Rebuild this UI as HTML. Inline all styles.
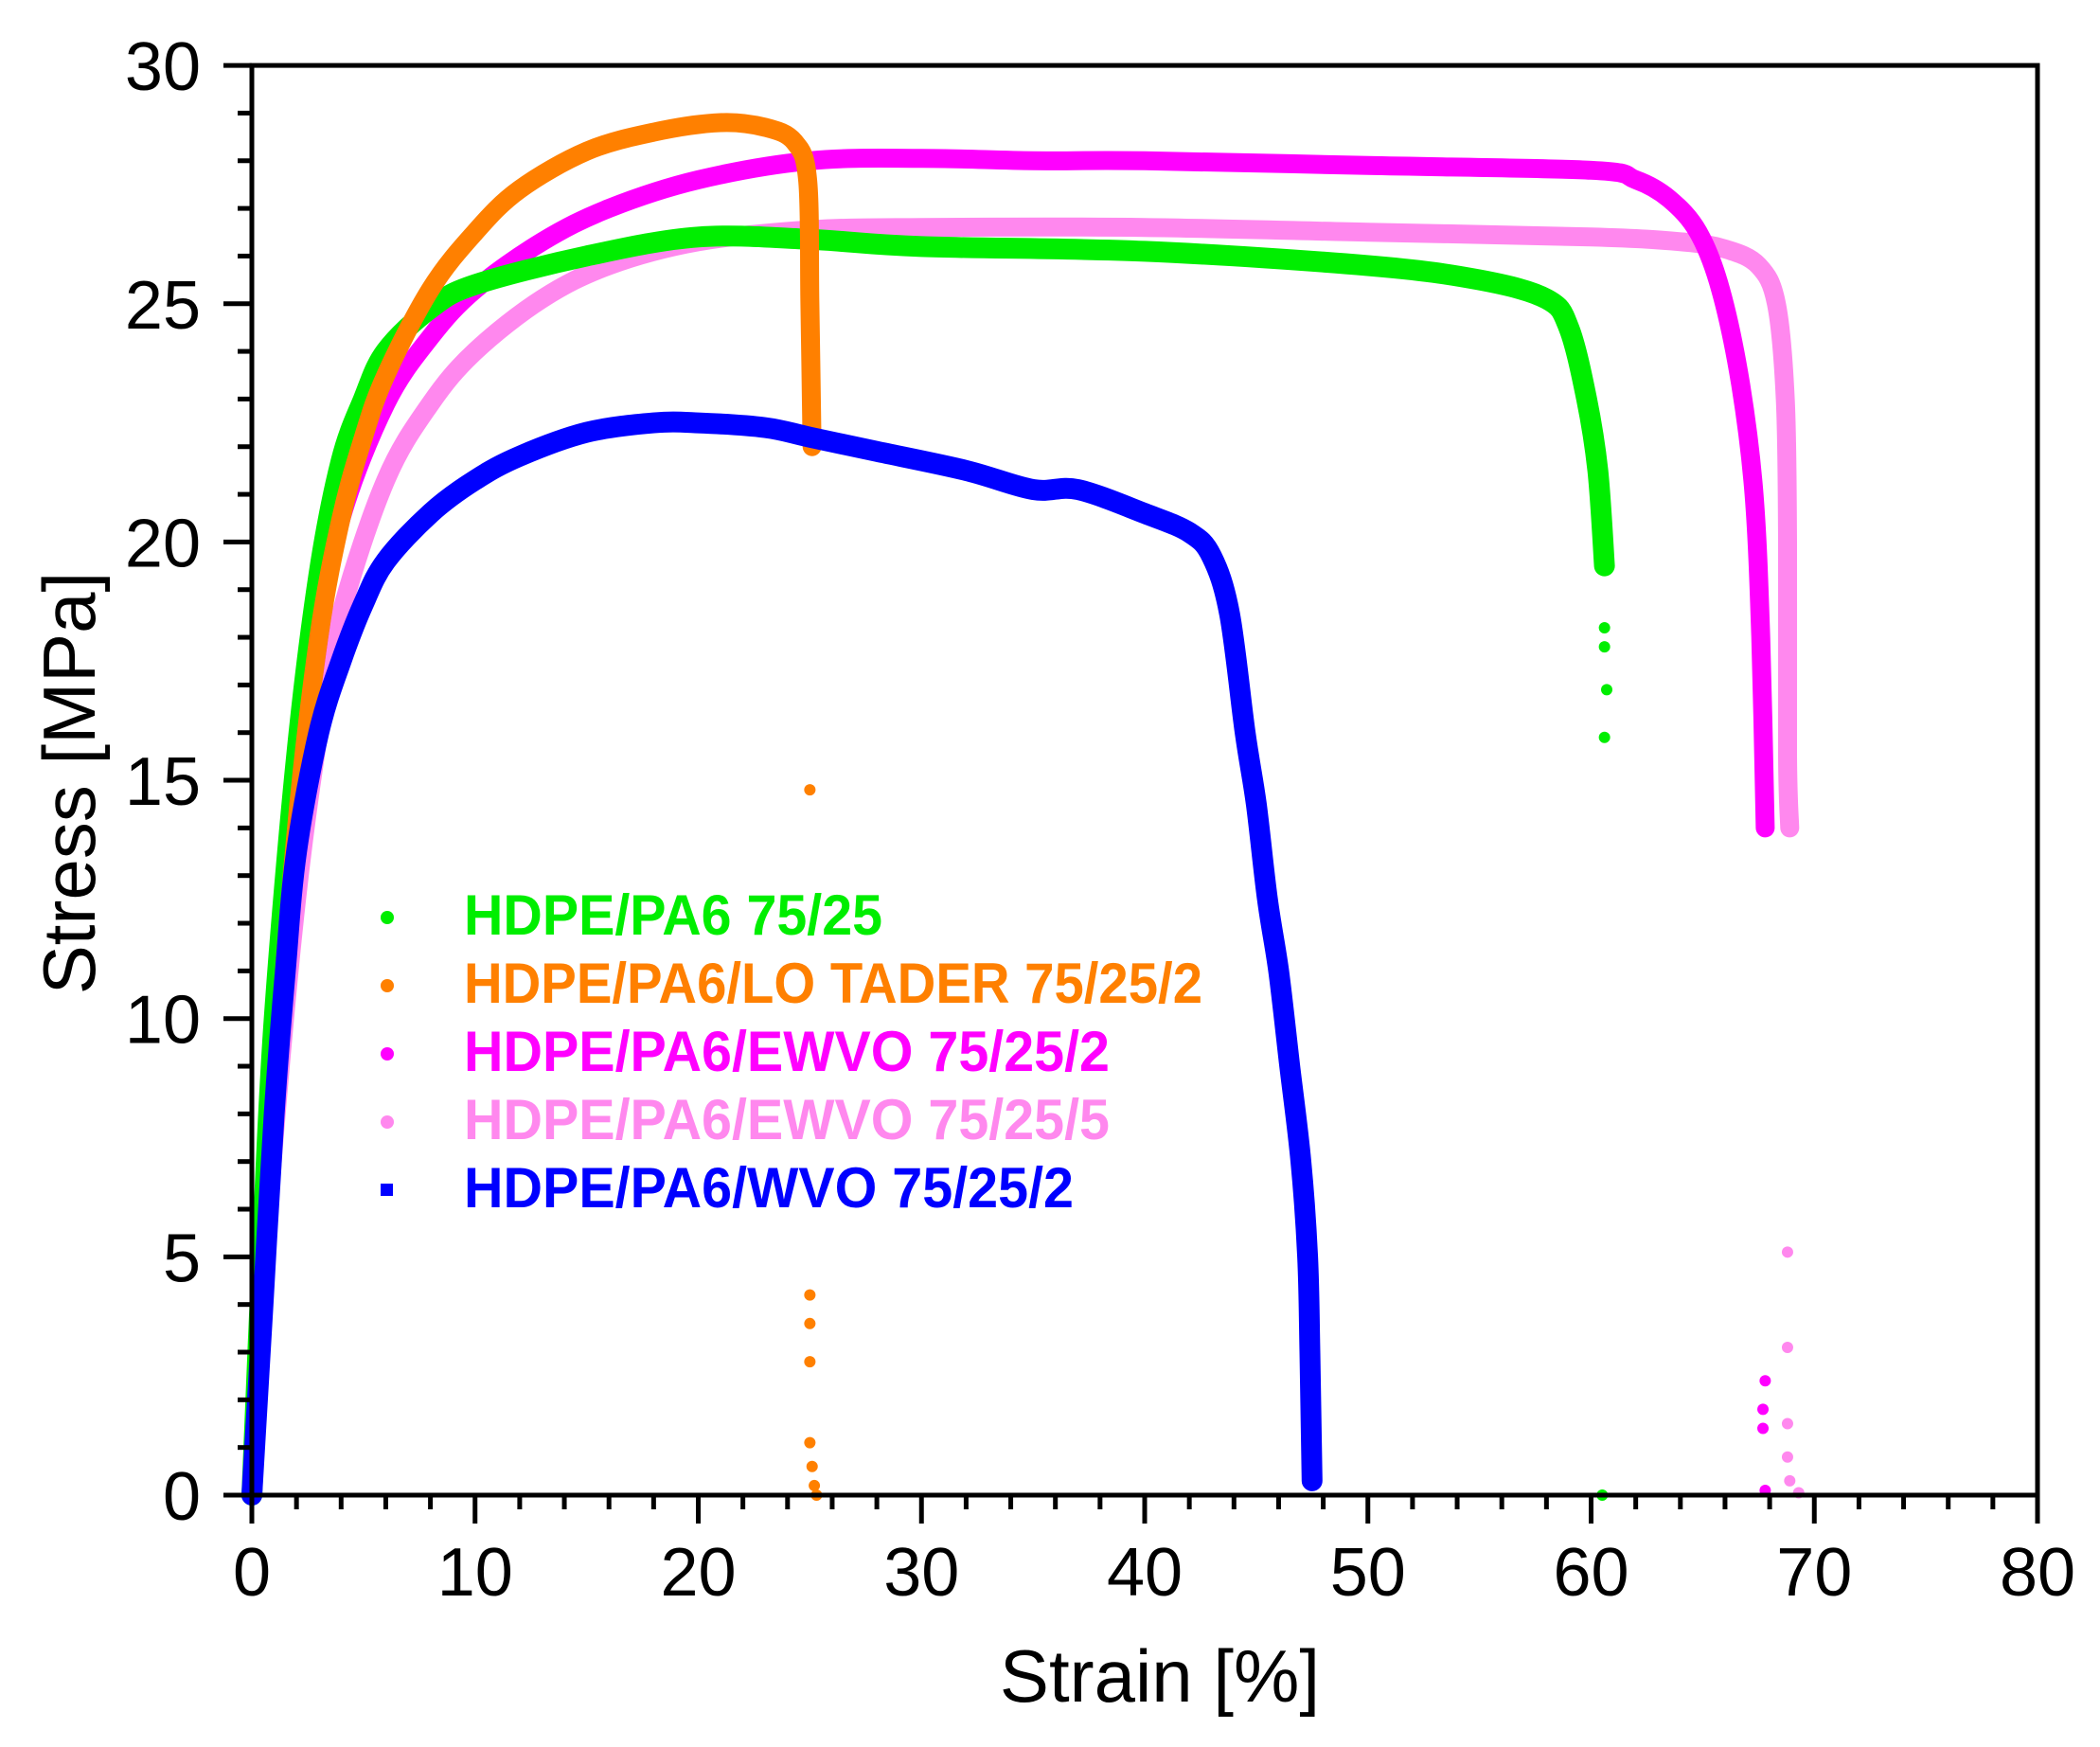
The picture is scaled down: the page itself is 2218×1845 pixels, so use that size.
<!DOCTYPE html>
<html><head><meta charset="utf-8"><style>html,body{margin:0;padding:0;background:#fff}svg{display:block}</style></head>
<body>
<svg id="svg" width="2218" height="1845" viewBox="0 0 2218 1845" xmlns="http://www.w3.org/2000/svg" font-family="Liberation Sans, Arial, sans-serif">
<rect width="2218" height="1845" fill="#fff"/>
<g id="curves" fill="none" stroke-linejoin="round" stroke-linecap="round"></g>
<g id="axes"></g>
<g font-weight="bold" font-size="60">
<circle cx="409" cy="969" r="7" fill="#00ee00"/><text x="490" y="987" fill="#00ee00" textLength="442" lengthAdjust="spacingAndGlyphs">HDPE/PA6 75/25</text>
<circle cx="409" cy="1041" r="7" fill="#ff8000"/><text x="490" y="1059" fill="#ff8000" textLength="780" lengthAdjust="spacingAndGlyphs">HDPE/PA6/LO TADER 75/25/2</text>
<circle cx="409" cy="1113" r="7" fill="#ff00ff"/><text x="490" y="1131" fill="#ff00ff" textLength="682" lengthAdjust="spacingAndGlyphs">HDPE/PA6/EWVO 75/25/2</text>
<circle cx="409" cy="1185" r="7" fill="#ff88ee"/><text x="490" y="1203" fill="#ff88ee" textLength="682" lengthAdjust="spacingAndGlyphs">HDPE/PA6/EWVO 75/25/5</text>
<rect x="402" y="1250" width="13" height="13" fill="#0000ff"/><text x="490" y="1275" fill="#0000ff" textLength="644" lengthAdjust="spacingAndGlyphs">HDPE/PA6/WVO 75/25/2</text>
</g>
<text x="1225" y="1797" font-size="78" text-anchor="middle">Strain [%]</text>
<text transform="translate(100,827) rotate(-90)" font-size="78" text-anchor="middle">Stress [MPa]</text>
</svg>
<script>
var ns="http://www.w3.org/2000/svg";
function X(s){return 266+23.575*s;}
function Y(v){return 1579-50.33*v;}
var cg=document.getElementById('curves'), ag=document.getElementById('axes');
function ln(x1,y1,x2,y2,w){var l=document.createElementNS(ns,'line');l.setAttribute('x1',x1);l.setAttribute('y1',y1);l.setAttribute('x2',x2);l.setAttribute('y2',y2);l.setAttribute('stroke','#000');l.setAttribute('stroke-width',w||5);ag.appendChild(l);}
function tx(x,y,s,anchor){var t=document.createElementNS(ns,'text');t.setAttribute('x',x);t.setAttribute('y',y);t.setAttribute('font-size',72);t.setAttribute('text-anchor',anchor);t.textContent=s;ag.appendChild(t);}
var r=document.createElementNS(ns,'rect');r.setAttribute('x',X(0));r.setAttribute('y',Y(30));r.setAttribute('width',X(80)-X(0));r.setAttribute('height',Y(0)-Y(30));r.setAttribute('fill','none');r.setAttribute('stroke','#000');r.setAttribute('stroke-width',5);ag.appendChild(r);
for(var s=0;s<=80;s+=2){var maj=s%10==0;ln(X(s),Y(0),X(s),Y(0)+(maj?30:15));if(maj)tx(X(s),1685,String(s),'middle');}
for(var v=0;v<=30;v+=1){var mj=v%5==0;ln(X(0),Y(v),X(0)-(mj?30:15),Y(v));if(mj)tx(212,Y(v)+26,String(v),'end');}
</script>
<script>
function f1(n){return (Math.round(n*10)/10).toString();}
function poly(pts,col,w){
  var P=[];for(var i=0;i<pts.length;i++){P.push([X(pts[i][0]),Y(pts[i][1])]);}
  var d='M'+f1(P[0][0])+','+f1(P[0][1]);
  for(var j=0;j<P.length-1;j++){
    var a=P[Math.max(0,j-1)],b=P[j],c=P[j+1],e=P[Math.min(P.length-1,j+2)];
    d+=' C'+f1(b[0]+(c[0]-a[0])/6)+','+f1(b[1]+(c[1]-a[1])/6)+' '+f1(c[0]-(e[0]-b[0])/6)+','+f1(c[1]-(e[1]-b[1])/6)+' '+f1(c[0])+','+f1(c[1]);
  }
  var el=document.createElementNS(ns,'path');el.setAttribute('d',d);el.setAttribute('stroke',col);el.setAttribute('stroke-width',w);el.setAttribute('fill','none');cg.appendChild(el);
}
function dots(pts,col){for(var i=0;i<pts.length;i++){var c=document.createElementNS(ns,'circle');c.setAttribute('cx',X(pts[i][0]));c.setAttribute('cy',Y(pts[i][1]));c.setAttribute('r',6);c.setAttribute('fill',col);cg.appendChild(c);}}
var pink=[[0,0],[0.5,4],[1,7.5],[2,12.5],[3,16],[4,18.5],[6,21.3],[8,22.9],[10,24],[13,25.1],[16,25.8],[20,26.3],[25,26.55],[30,26.6],[40,26.6],[50,26.5],[60,26.4],[64,26.3],[66,26.15],[67.5,25.8],[68.3,25],[68.7,23],[68.8,20],[68.8,15.5],[68.9,14]];
var mag=[[0,0],[0.5,4.5],[1,8.5],[2,14],[3,18],[4,20.5],[6,22.9],[8,24.3],[10,25.3],[13,26.3],[16,27],[20,27.6],[25,28],[30,28.05],[35,28],[40,28],[50,27.9],[60,27.8],[62,27.6],[63.5,27.2],[64.8,26.5],[65.8,25.3],[66.7,23.3],[67.3,21],[67.6,18],[67.8,14]];
var green=[[0,0],[0.5,5.5],[1,10],[2,15.5],[3,19.3],[4,21.7],[5,23],[6,24],[8,24.9],[10,25.4],[15,26],[20,26.4],[25,26.35],[30,26.2],[40,26.1],[50,25.8],[55,25.5],[58,25.1],[59,24.5],[59.8,23],[60.3,21.5],[60.6,19.5]];
var orange=[[0,0],[1,8],[2,14],[3,18],[4,20.5],[5,22.2],[6,23.5],[8,25.3],[10,26.5],[12,27.4],[15,28.2],[18,28.6],[21,28.8],[23,28.7],[24.3,28.4],[24.9,27.6],[25,25],[25.1,22]];
var blue=[[0,0],[0.5,4],[1,8],[1.5,11],[2,13.5],[3,16],[4,17.5],[5,18.7],[6,19.6],[8,20.6],[10,21.3],[12,21.8],[15,22.3],[18,22.5],[20,22.5],[23,22.4],[25,22.2],[28,21.9],[32,21.5],[35,21.1],[37,21.1],[40,20.6],[42,20.2],[43,19.7],[43.8,18.5],[44.5,16],[45,14.5],[45.5,12.5],[46,11],[46.5,9],[47,7],[47.3,5],[47.4,3],[47.5,0.3]];
poly(pink,'#ff88ee',20);dots([[68.8,5.1],[68.8,3.1],[68.8,1.5],[68.8,0.8],[68.9,0.3],[69.3,0.05]],'#ff88ee');
poly(mag,'#ff00ff',20);dots([[67.8,2.4],[67.7,1.8],[67.7,1.4],[67.8,0.1]],'#ff00ff');
poly(green,'#00ee00',22);dots([[60.6,18.2],[60.6,17.8],[60.7,16.9],[60.6,15.9],[60.5,0]],'#00ee00');
poly(orange,'#ff8000',20);dots([[25,14.8],[25,4.2],[25,3.6],[25,2.8],[25,1.1],[25.1,0.6],[25.2,0.2],[25.3,0]],'#ff8000');
poly(blue,'#0000ff',22);
</script>
</body></html>
